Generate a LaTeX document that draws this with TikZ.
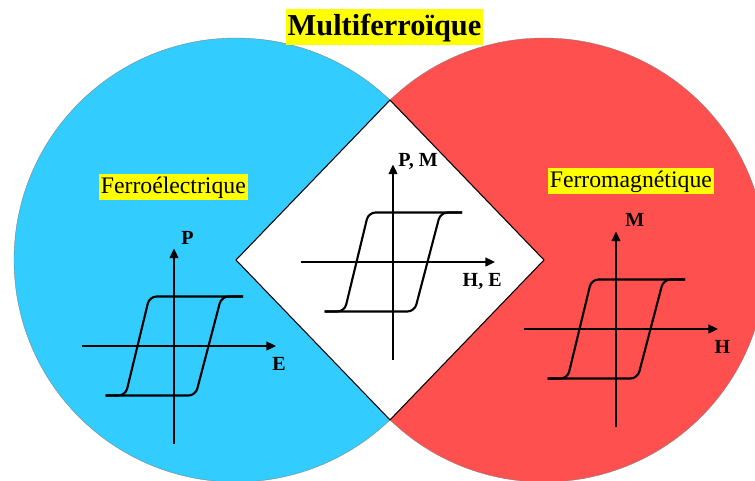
\documentclass[tikz,border=0pt]{standalone}
\usepackage{fontspec}
\setmainfont{Liberation Serif}
\usepackage{tkz-euclide}
\usetikzlibrary{arrows.meta,calc}
\definecolor{ElecClr}{RGB}{51,204,255}
\definecolor{MagnClr}{RGB}{255,80,80}
\definecolor{MarkClr}{RGB}{255,255,0}

\tikzset{
  hltag/.style={fill=MarkClr,inner xsep=1pt,inner ysep=0.5pt,text height=10.5pt,text depth=3.3pt,font=\fontsize{13.5}{14}\selectfont},
  axarrow/.style={line width=1.1pt,-{Triangle[length=5.5pt,width=5pt]}},
  hystline/.style={line width=1.2pt,rounded corners=4pt},
  axlbl/.style={inner sep=0pt,font=\fontsize{11.4}{12}\selectfont\bfseries}
}

\begin{document}
\begin{tikzpicture}
\tkzSetUpLine[line width=0.6pt,color=black]
\useasboundingbox (0,0) rectangle (15.1,9.6);
\clip (0,0) rectangle (15.1,9.6);

\tkzDefPoint(4.72,4.4){L}
\tkzDefPoint(10.88,4.4){R}
\tkzDefPoint(0.28,4.4){A}
\tkzDefPoint(15.32,4.4){B}
\tkzInterCC(L,A)(R,B) \tkzGetPoints{T}{U}

\tkzFillCircle[color=ElecClr](L,A)
\tkzFillCircle[color=MagnClr](R,B)
\tkzDrawCircles(L,A R,B)

\tkzFillPolygon[color=white](L,T,R,U)
\tkzDrawPolygon(L,T,R,U)

% origins of the three loops
\tkzDefPoint(3.48,2.68){Oe}
\tkzDefPoint(7.86,4.36){Om}
\tkzDefPoint(12.32,3.02){Oh}

\foreach \o in {Oe,Om,Oh}{
  \begin{scope}[shift={(\o)}]
    \coordinate (\o-w) at (-1.85,0);
    \coordinate (\o-e) at (2.04,0);
    \coordinate (\o-s) at (0,-1.95);
    \coordinate (\o-n) at (0,1.95);
    \draw[axarrow] (\o-w) -- (\o-e);
    \draw[axarrow] (\o-s) -- (\o-n);
    % rising branch, then descending branch
    \draw[hystline] (-1.37,-0.99) -- (0.43,-0.99) -- (0.95,0.99) -- (1.38,0.99);
    \draw[hystline] (-1.37,-0.99) -- (-0.97,-0.99) -- (-0.49,0.99) -- (1.38,0.99);
  \end{scope}
}

\node[axlbl,anchor=south west] (labP) at ($(Oe-n)+(0.14,0.08)$) {P};
\node[axlbl,anchor=north] (labE) at ($(Oe-e)+(0.06,-0.22)$) {E};
\node[axlbl,anchor=mid west] (labPM) at ($(Om-n)+(0.1,0.04)$) {P, M};
\node[axlbl,anchor=north east] (labHE) at ($(Om-e)+(0.14,-0.22)$) {H, E};
\node[axlbl,anchor=south west] (labM) at ($(Oh-n)+(0.18,0.1)$) {M};
\node[axlbl,anchor=north] (labH) at ($(Oh-e)+(0.09,-0.22)$) {H};

\node[hltag,font=\fontsize{17.3}{18}\selectfont\bfseries,text height=14pt,text depth=4.4pt,inner ysep=1pt] (titre) at (7.69,9.06) {Multiferroïque};
\node[hltag] (ferroel) at (3.467,5.86) {Ferroélectrique};
\node[hltag] (ferromag) at (12.617,5.976) {Ferromagnétique};

\end{tikzpicture}
\end{document}
